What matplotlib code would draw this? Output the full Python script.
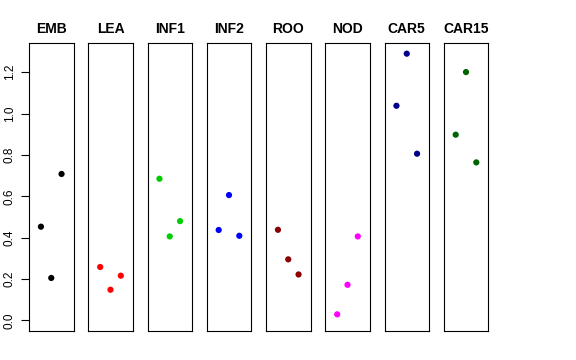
import matplotlib
matplotlib.use("Agg")
import matplotlib.pyplot as plt

groups = ["EMB", "LEA", "INF1", "INF2", "ROO", "NOD", "CAR5", "CAR15"]
colors = ["black", "red", "#00CD00", "blue", "#8B0000", "magenta", "#00008B", "#006400"]
x_pos = [1, 2, 3]
values = {
    "EMB": [0.453, 0.205, 0.708],
    "LEA": [0.258, 0.148, 0.216],
    "INF1": [0.685, 0.406, 0.480],
    "INF2": [0.437, 0.606, 0.409],
    "ROO": [0.438, 0.295, 0.222],
    "NOD": [0.029, 0.172, 0.406],
    "CAR5": [1.038, 1.290, 0.806],
    "CAR15": [0.898, 1.201, 0.764],
}
yticks = [0.0, 0.2, 0.4, 0.6, 0.8, 1.0, 1.2]
ytick_labels = ["0.0", "0.2", "0.4", "0.6", "0.8", "1.0", "1.2"]

plt.rcParams["font.family"] = ["Liberation Sans", "DejaVu Sans"]

W, H = 576, 360
fig = plt.figure(figsize=(W / 100, H / 100), dpi=100)

left0 = 29
step = 59.25
pw = 44.5
top_px = 43
bot_px = 331

ymax = 1.29
ylim = (-0.04 * ymax, ymax * 1.04)
xlim = (-0.16, 4.16)

for i, g in enumerate(groups):
    l = (left0 + i * step) / W
    ax = fig.add_axes([l, 1 - bot_px / H, pw / W, (bot_px - top_px) / H])
    ax.scatter(x_pos, values[g], s=20, color=colors[i], edgecolors="none", zorder=3)
    ax.set_xlim(*xlim)
    ax.set_ylim(*ylim)
    ax.set_xticks([])
    for sp in ax.spines.values():
        sp.set_linewidth(0.8)
        sp.set_color("black")
    ax.set_title(g, fontsize=10, fontweight="bold", pad=7)
    if i == 0:
        ax.set_yticks(yticks)
        ax.set_yticklabels(ytick_labels, rotation=90, va="center", fontsize=8.5)
        ax.tick_params(axis="y", length=5.5, width=0.8, pad=4)
    else:
        ax.set_yticks([])

fig.savefig("out.png", dpi=100)
